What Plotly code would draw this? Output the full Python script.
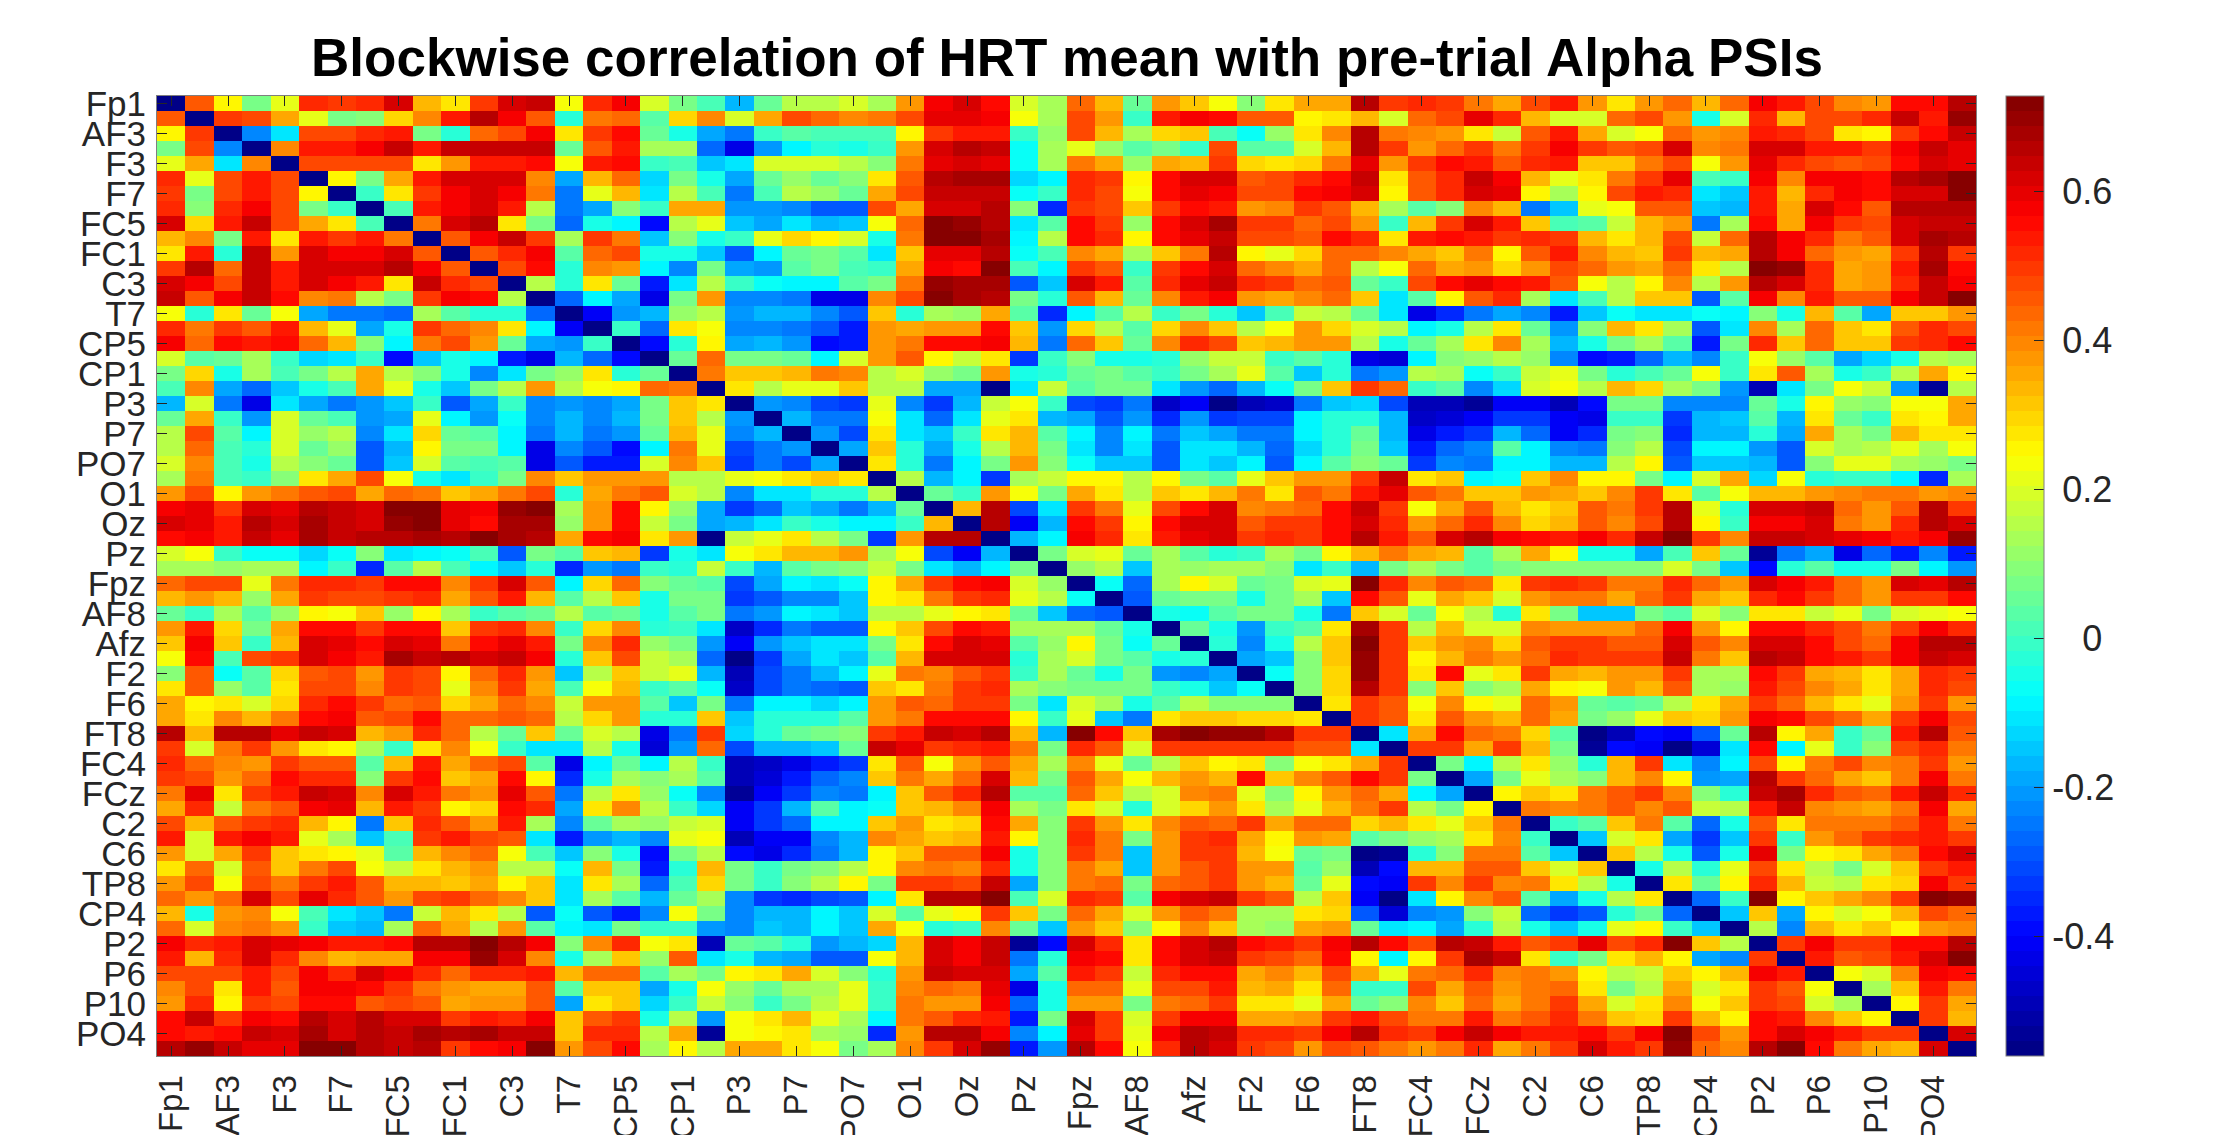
import plotly.graph_objects as go

tick_labels = ["Fp1","AF3","F3","F7","FC5","FC1","C3","T7","CP5","CP1","P3","P7","PO7","O1","Oz","Pz",
               "Fpz","AF8","Afz","F2","F6","FT8","FC4","FCz","C2","C6","TP8","CP4","P2","P6","P10","PO4"]
title_text = "Blockwise correlation of HRT mean with pre-trial Alpha PSIs"
diagonal = -56
colorbar_values = [-0.4, -0.2, 0, 0.2, 0.4, 0.6]
colorbar_labels = ["-0.4", "-0.2", "0", "0.2", "0.4", "0.6"]

# upper triangle of the matrix, values x 100, each row starts right after the diagonal
r00 = [45,25,8,22,52,50,52,62,33,27,50,62,64,23,51,58, 20,8,2,-16,6,15,16,19,13,37,58,62,56,19,14, 43,33,6,37,31,23,10,27,35,36,65,49,52,50,41,35, 48,54,37,27,37,43,33,43,58,54,48,39,37,56,56,66]
r01 = [50,47,35,21,8,10,30,39,54,65,58,45,-2,41,43, 4,30,39,19,36,47,43,39,41,47,60,60,58,24,14, 47,37,0,53,58,56,45,45,25,27,34,19,43,48,60,52, 34,19,20,43,47,38,-4,19,52,34,47,48,52,64,54,69]
r02 = [-22,-11,47,48,52,54,8,-2,43,48,58,27,50,56, 6,-5,-18,-24,0,4,2,2,2,25,50,54,54,0,11, 47,33,14,29,31,2,-7,11,27,39,65,41,39,37,27,18, 45,54,35,19,23,43,37,39,54,52,47,27,25,50,56,64]
r03 = [40,54,53,58,63,54,63,63,63,64,6,45,54, 13,13,-26,-42,-20,-8,-3,-5,-1,38,62,65,64,-7,14, 21,11,4,8,0,47,4,4,19,34,66,49,37,43,50,41, 49,58,49,45,47,62,39,41,62,62,54,54,50,58,64,60]
r04 = [47,47,48,48,28,37,54,54,55,24,54,56, 0,2,-15,-10,19,19,19,16,10,41,60,62,60,-7,14, 41,36,11,36,34,49,29,27,29,41,60,38,49,56,54,45, 52,54,32,32,41,47,24,37,60,52,47,45,47,56,62,60]
r05 = [25,8,35,53,61,62,61,39,-18,33,43, -12,8,-5,-18,6,11,6,9,27,45,66,68,68,-12,-9, 52,49,25,55,62,62,45,47,52,56,64,27,45,52,64,58, 33,21,27,41,50,60,2,0,58,39,58,58,56,66,67,71]
r06 = [0,27,50,58,62,58,41,-24,22,33, -10,16,2,-24,2,16,11,6,35,47,64,64,64,-7,0, 52,47,23,56,60,58,47,47,56,58,62,25,45,52,62,60, 25,14,25,47,53,52,-10,-14,54,33,52,58,56,61,62,71]
r07 = [2,53,58,61,54,16,-24,-19,10, 0,36,36,-20,-20,-22,-28,-28,47,36,61,61,65,10,-34, 49,47,32,49,56,54,38,39,49,45,33,14,3,9,39,34, -24,-15,21,24,45,45,-15,-16,54,35,62,56,45,66,66,66]
r08 = [41,61,66,28,8,-26,-5,-8, -38,16,21,-14,-18,-10,-16,-15,24,43,71,69,66,-11,4, 56,50,11,56,62,68,49,49,44,47,37,0,33,50,62,54, 32,2,4,18,33,38,-25,14,56,35,58,49,47,62,64,64]
r09 = [45,58,63,49,14,50,41, -14,9,-4,0,21,29,25,20,-4,41,72,71,67,-9,16, 56,52,25,56,60,64,47,47,45,56,51,27,54,56,54,49, 51,49,33,27,33,47,18,43,66,58,52,41,45,62,67,65]
r10 = [45,52,58,4,43,47, -5,-5,-14,-28,-8,6,8,3,-10,32,60,60,66,-7,2, 39,35,14,32,41,66,25,21,29,43,43,39,35,32,42,25, 45,54,39,34,32,49,34,36,65,58,43,37,35,49,65,50]
r11 = [47,56,-2,39,38, -9,-23,8,-18,-20,3,8,2,0,35,58,56,71,2,-8, 50,45,0,50,56,61,44,39,36,43,16,23,44,35,38,29, 38,47,43,38,36,43,27,15,71,69,52,36,37,54,67,56]
r12 = [16,-2,28,6, -36,-10,15,0,-7,-9,-9,4,8,41,70,68,68,-28,-14, 61,53,4,52,60,64,52,49,43,45,6,0,47,56,60,56, 53,45,24,16,25,39,15,37,66,61,52,35,38,52,64,58]
r13 = [-26,-9,-18, -42,8,37,-22,-23,-24,-42,-42,39,47,71,68,66,8,-2, 45,33,6,39,54,58,37,35,39,43,31,-10,3,25,45,52, 14,-10,2,16,32,32,-29,3,58,39,54,45,45,58,63,72]
r14 = [-40,-20, -16,11,16,-20,-16,-16,-22,-29,32,-2,14,11,36,4,-34, -9,4,16,0,8,-2,-15,2,18,16,6,-10,-42,-34,-24,-18, -22,-36,-15,-7,-10,-10,-7,-9,10,-5,34,4,-18,31,32,37]
r15 = [0, -26,27,24,-23,-22,-24,-28,-37,37,36,37,38,56,32,-21, 29,15,3,29,39,32,16,23,37,29,20,16,-8,-5,16,27, 6,-20,10,33,27,14,-29,-10,39,13,44,31,27,45,52,48]
r16 = [-38,-3,25,-18,-16,-20,-38,-36,38,41,56,56,58,34,-25, 43,32,6,39,52,48,32,33,38,37,16,-4,5,13,28,39, 14,-16,-5,8,14,3,-36,7,52,31,44,32,31,49,52,56]
r17 = [6,43,8,8,5,-9,20,37,45,25,18,27,-32,0, 9,-5,-5,-2,11,17,17,0,4,-2,-42,-44,-9,10,11,16, 11,-22,-38,-36,-26,-17,-23,0,24,11,3,-19,-12,-5,16,14]
r18 = [42,32,32,33,41,39,16,19,11,7,38,-5,-3, 5,7,3,0,7,14,22,4,-15,-3,-25,-20,16,14,-7,0, 18,22,8,-2,2,6,24,0,27,45,14,-5,0,15,35,25]
r19 = [27,15,21,21,32,15,15,-18,-18,-55,-11,18, 4,8,8,-10,-21,-26,-16,-7,7,31,49,43,0,3,-22,-12, 19,23,16,34,29,13,8,-20,-49,-10,8,24,18,-20,-53,16]
r20 = [-21,-22,-30,-32,21,-22,-32,-16,18,23,0, -30,-32,-24,-46,-40,-55,-48,-46,-25,-15,-12,-30,-49,-49,-53,-40, -40,-49,-38,8,7,-22,-22,-22,5,-5,25,11,10,24,24,35]
r21 = [-16,-25,-25,23,-10,-26,-11,21,27,-16, -18,-28,-20,-34,-21,-32,-30,-30,-8,-2,-3,-17,-46,-44,-41,-32, -32,-40,-42,0,0,-32,-17,-15,3,-17,27,5,0,27,25,35]
r22 = [-21,-30,27,-11,-14,0,27,34,3, -9,-22,-9,-25,-14,-19,-25,-25,-9,-3,6,-16,-42,-36,-32,-16, -26,-40,-34,7,10,-34,-16,-16,-3,-18,35,14,8,34,27,28]
r23 = [-19,31,-3,-18,-5,16,34,8, -10,-23,-10,-29,-11,-11,-17,-27,-12,-3,7,-14,-36,-26,-23,3, -9,-23,-25,10,16,-30,-9,-9,-21,-28,19,14,16,21,14,24]
r24 = [27,-3,-24,-9,7,37,10, -7,-15,-14,-29,-11,-14,-9,-28,-9,3,10,5,-32,-23,-25,-9, -9,-16,-17,16,25,-29,-14,-14,-16,-28,10,21,21,14,11,8]
r25 = [16,-17,-9,-33,14,18, 25,25,16,25,7,3,21,32,38,37,50,64,27,31,-9,-7, 32,39,25,25,8,-9,19,35,-12,24,-2,0,0,-9,-34,14]
r26 = [6,0,38,24,7, 36,27,16,32,28,34,41,28,45,42,54,60,45,42,31,32, 37,35,31,39,49,27,4,24,34,33,38,40,42,42,37,40]
r27 = [34,65,-30,-11, 49,42,22,47,56,61,40,42,43,56,63,50,24,35,46,34, 27,31,45,41,50,65,22,-3,62,62,63,44,38,45,66,49]
r28 = [66,-40,-16, 55,49,25,55,62,62,45,49,50,56,61,52,38,44,52,40, 29,34,45,40,48,66,25,0,58,58,61,42,37,52,65,61]
r29 = [-16,-9, 58,51,27,54,60,61,50,52,49,56,66,54,46,62,66,58, 56,54,58,52,64,72,50,39,63,63,61,60,58,54,58,69]
r30 = [7, 19,21,6,13,3,-3,0,14,8,25,34,41,35,34,3,13, 36,25,-5,-5,-18,2,32,5,-52,-24,-18,-42,-26,-36,-22,-36]
r31 = [11,16,-15,13,11,13,13,9,-10,0,-17,7,14,7,3,7, 9,10,10,10,9,19,7,-15,-38,-2,3,-5,-5,7,-9,-21]
r32 = [-7,-26,13,25,19,5,8,19,21,72,52,39,45,43,28, 49,52,49,42,42,52,43,37,61,58,54,43,38,61,60,65]
r33 = [-28,5,8,8,-5,8,13,-14,56,45,22,36,31,19, 38,42,41,36,44,49,36,32,52,55,50,43,38,50,50,56]
r34 = [-5,-7,3,7,8,-5,-25,32,19,5,24,16,-2, 27,8,-14,-14,8,3,19,9,27,27,18,21,7,19,21,23]
r35 = [6,-5,-20,0,4,27,68,50,16,33,19,19, 39,38,38,38,43,58,37,25,56,56,52,47,41,50,58,52]
r36 = [-3,-22,-5,16,32,72,49,32,38,39,29, 45,50,50,45,45,61,45,39,61,61,56,47,43,58,65,65]
r37 = [-19,-14,10,32,69,50,25,34,41,37, 43,52,50,49,49,64,42,32,65,64,56,54,50,58,64,61]
r38 = [-7,9,29,69,49,27,55,21,27, 49,36,33,37,37,49,14,14,56,49,35,33,28,35,52,50]
r39 = [10,29,66,50,10,31,10,13, 36,25,24,37,34,45,13,11,54,47,39,35,27,35,52,47]
r40 = [27,49,45,24,39,25,21, 44,37,5,3,5,16,28,35,50,43,33,28,21,38,49,37]
r41 = [50,45,27,45,37,34, 43,36,7,11,21,31,29,37,58,55,47,43,35,50,58,47]
r42 = [-11,36,56,43,42, 29,3,-55,-49,-38,-40,-28,5,66,25,36,0,5,54,66,45]
r43 = [50,49,35,50, 34,8,-53,-38,-40,-55,-45,-10,56,-9,21,0,10,47,52,41]
r44 = [8,-9,16, 27,11,-2,33,49,-10,-23,-9,47,25,42,47,40,41,49,37]
r45 = [-18,7, 21,14,9,34,39,25,-20,-18,65,50,43,36,32,41,58,42]
r46 = [25, 32,27,42,46,49,40,9,-2,64,68,52,46,43,54,64,51]
r47 = [42,39,41,46,39,46,18,16,54,63,39,37,35,42,58,36]
r48 = [0,3,31,41,3,-26,-5,45,27,42,41,41,45,54,41]
r49 = [-14,19,27,-19,-32,-15,49,0,38,43,50,52,54,49]
r50 = [31,16,-5,-29,-5,60,7,25,27,36,42,56,62]
r51 = [-5,16,-3,21,48,27,16,7,20,31,50,53]
r52 = [27,5,25,52,34,18,15,27,29,58,50]
r53 = [-26,0,72,25,32,36,39,50,71,69]
r54 = [-14,32,-19,25,19,23,34,47,43]
r55 = [16,-22,34,27,32,25,37,39]
r56 = [49,58,50,49,56,56,66]
r57 = [54,45,48,54,62,71]
r58 = [24,19,39,58,56]
r59 = [13,31,54,41]
r60 = [25,50,36]
r61 = [50,33]
r62 = [62]

upper_rows = [r00,r01,r02,r03,r04,r05,r06,r07,r08,r09,r10,r11,r12,r13,r14,r15,r16,r17,r18,r19,r20,
              r21,r22,r23,r24,r25,r26,r27,r28,r29,r30,r31,r32,r33,r34,r35,r36,r37,r38,r39,r40,r41,
              r42,r43,r44,r45,r46,r47,r48,r49,r50,r51,r52,r53,r54,r55,r56,r57,r58,r59,r60,r61,r62]
N = len(upper_rows) + 1
bad = [(i, len(r)) for i, r in enumerate(upper_rows) if len(r) != N - 1 - i]
assert not bad, bad

z = [[diagonal / 100] * N for _ in range(N)]
for i, row in enumerate(upper_rows):
    for k, v in enumerate(row):
        z[i][i + 1 + k] = v / 100
        z[i + 1 + k][i] = v / 100

def jet(t):
    def c(x):
        return max(0.0, min(1.0, x))
    return (c(1.5 - abs(4 * t - 3)), c(1.5 - abs(4 * t - 2)), c(1.5 - abs(4 * t - 1)))

levels = 64
colorscale = []
for k in range(levels):
    r, g, b = jet((k + 0.5) / levels)
    col = f"rgb({round(r*255)},{round(g*255)},{round(b*255)})"
    colorscale += [[k / levels, col], [(k + 1) / levels, col]]

positions = list(range(1, N + 1))
tickvals = positions[::2]
text_color = "#262626"
axis_color = "#7f7f7f"
font_family = "Liberation Sans, Arial, sans-serif"

# the reference centres its colour bar labels, so each one is padded to its own start
pad = {"-0.4": 0, "-0.2": 0, "0": 3, "0.2": 1, "0.4": 1, "0.6": 1}
padded = ["\u00a0" * pad[t] + t for t in colorbar_labels]

fig = go.Figure(go.Heatmap(
    z=z, x=positions, y=positions, zmin=-0.56, zmax=0.7275, colorscale=colorscale,
    colorbar=dict(
        x=1.0165, xanchor="left", y=0.5, yanchor="middle", thickness=38, thicknessmode="pixels",
        len=1.0, lenmode="fraction", xpad=0, ypad=0, outlinecolor=axis_color, outlinewidth=1,
        tickvals=colorbar_values, ticktext=padded,
        ticks="inside", ticklen=10, tickcolor=text_color, tickwidth=1,
        tickfont=dict(size=36, color=text_color, family=font_family),
    ),
))
axis_common = dict(
    tickmode="array", tickvals=tickvals, ticktext=tick_labels, ticks="inside", ticklen=10, tickwidth=1,
    tickcolor=text_color, showgrid=False, zeroline=False, showline=True, linecolor=axis_color, linewidth=1,
    mirror="allticks",
)
fig.update_xaxes(range=[0.5, N + 0.5], tickangle=-90, ticklabelstandoff=5,
                 tickfont=dict(size=33, color=text_color, family=font_family), **axis_common)
fig.update_yaxes(range=[N + 0.5, 0.5], ticklabelstandoff=3,
                 tickfont=dict(size=35, color=text_color, family=font_family), **axis_common)
fig.update_layout(
    width=2237, height=1135, margin=dict(l=157, r=261, t=96, b=79, autoexpand=False),
    paper_bgcolor="white", plot_bgcolor="white",
    title=dict(text=f"<b>{title_text}</b>", x=1067/2237, xanchor="center", y=1-57/1135, yanchor="middle",
               font=dict(size=53, color="black", family=font_family)),
)
fig.write_html("out.html", config={"displayModeBar": False},
               post_script="document.body.style.margin='0';document.body.style.overflow='hidden';")
